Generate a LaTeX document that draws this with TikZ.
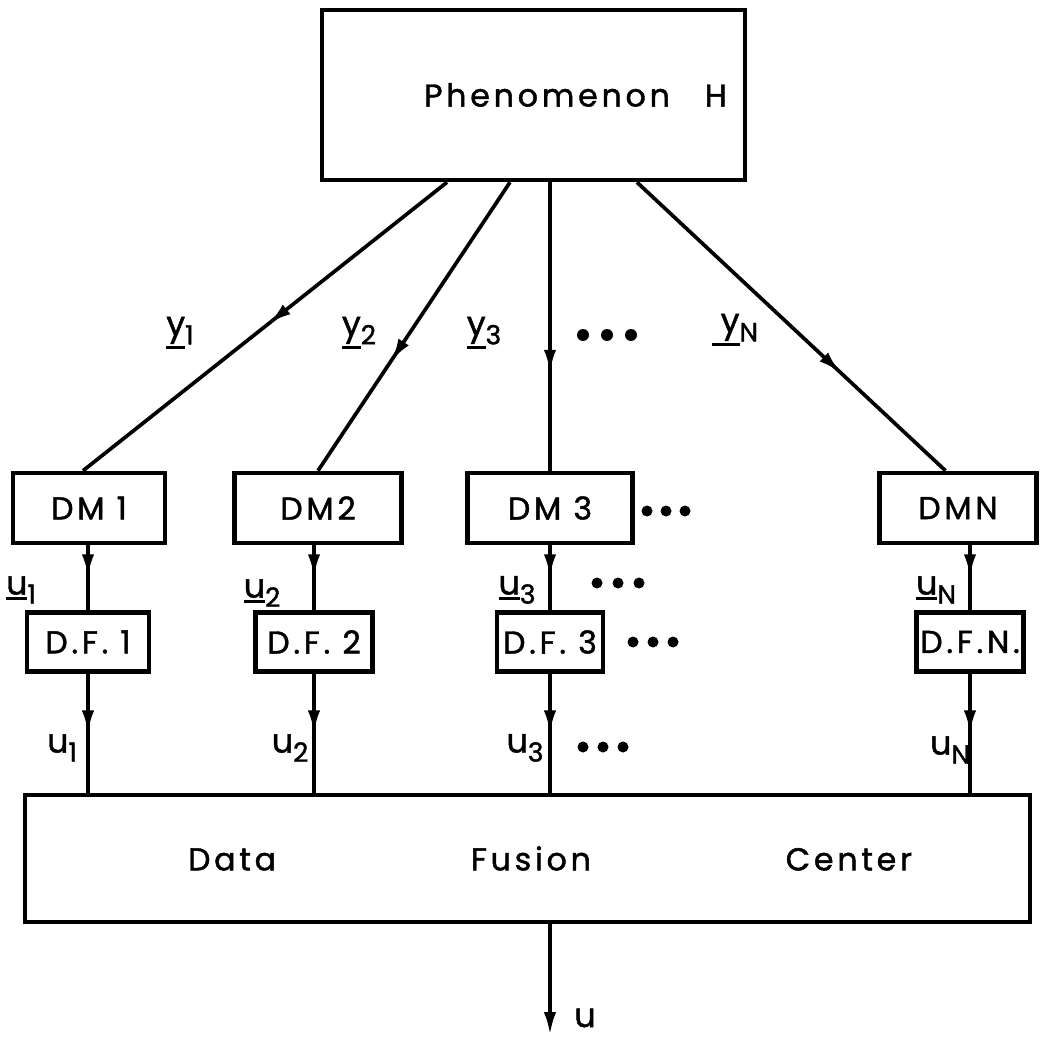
\documentclass[tikz,border=0pt]{standalone}
\usepackage{fontspec}
\setmainfont{Poppins}[LetterSpace=12, BoldFont=Poppins, BoldFeatures={FakeBold=1.4}]
\usetikzlibrary{arrows.meta,decorations.markings}
\newcommand{\lineunder}[1]{\vtop{\hbox{#1}\kern1.2pt\hrule height1.8pt}}
\newcommand{\idx}[1]{\raisebox{-0.5ex}{\fontsize{15}{17}\selectfont #1}}
\tikzset{
  blk/.style={draw, line width=2.6pt, inner sep=0pt, font=\fontsize{18}{21}\selectfont\bfseries},
  lbl/.style={inner sep=0pt, font=\fontsize{19}{22}\selectfont\bfseries},
  wire/.style={line width=2.1pt},
  midarr/.style={wire, postaction={decorate},
    decoration={markings, mark=at position #1 with {\arrow{Latex[length=13pt,width=7pt]}}}}
}
\begin{document}
\begin{tikzpicture}[x=0.02cm, y=-0.02cm]
\useasboundingbox (0,0) rectangle (1045,1037);
\node[blk, minimum width=8.46cm, minimum height=3.4cm] (ph) at (533.5,95) {\hspace*{1.68cm}Phenomenon\hspace{0.7cm}H};
\node[blk, minimum width=3.04cm, minimum height=1.4cm] (dm1) at (89,508) {DM 1};
\node[blk, minimum width=3.34cm, minimum height=1.4cm] (dm2) at (318,508) {DM2};
\node[blk, minimum width=3.3cm, minimum height=1.4cm] (dm3) at (550,508) {DM 3};
\node[blk, minimum width=3.14cm, minimum height=1.4cm] (dmN) at (958,508) {DMN};
\node[blk, minimum width=2.44cm, minimum height=1.18cm] (df1) at (88,642) {D.F. 1};
\node[blk, minimum width=2.34cm, minimum height=1.18cm] (df2) at (314,642) {D.F. 2};
\node[blk, minimum width=2.12cm, minimum height=1.18cm] (df3) at (550,642) {D.F. 3};
\node[blk, minimum width=2.14cm, minimum height=1.18cm] (dfN) at (970,642) {D.F.N.};
\node[blk, minimum width=20.1cm, minimum height=2.54cm] (dfc) at (527.5,858.5) {\hspace*{0.9cm}\makebox[14.48cm]{Data\hfill Fusion\hfill Center}};
\coordinate (out) at (550,1035);
\draw[midarr=0.49] ([xshift=-1.73cm]ph.south) -- ([xshift=-0.12cm]dm1.north);
\draw[midarr=0.62] ([xshift=-0.47cm]ph.south) -- (dm2.north);
\draw[midarr=0.66] (ph.south -| dm3.north) -- (dm3.north);
\draw[midarr=0.66] ([xshift=2.07cm]ph.south) -- ([xshift=-0.25cm]dmN.north);
\draw[midarr=0.49] (dm1.south -| df1.north) -- (df1.north);
\draw[midarr=0.49] (dm2.south -| df2.north) -- (df2.north);
\draw[midarr=0.49] (dm3.south) -- (df3.north);
\draw[midarr=0.49] (dmN.south -| dfN.north) -- (dfN.north);
\draw[midarr=0.5] (df1.south) -- (dfc.north -| df1.south);
\draw[midarr=0.5] (df2.south) -- (dfc.north -| df2.south);
\draw[midarr=0.5] (df3.south) -- (dfc.north -| df3.south);
\draw[midarr=0.5] (dfN.south) -- (dfc.north -| dfN.south);
\draw[wire, -{Latex[length=13pt,width=7pt]}] (dfc.south -| df3.south) -- (out);
\node[lbl] (y1) at (180,333) {\lineunder{y}\idx{1}};
\node[lbl] (y2) at (359,333) {\lineunder{y}\idx{2}};
\node[lbl] (y3) at (484,333) {\lineunder{y}\idx{3}};
\node[lbl] (yN) at (735,330) {\lineunder{\hspace*{5pt}y}\idx{N}};
\node[lbl] (su1) at (21,590) {\lineunder{u}\idx{1}};
\node[lbl] (su2) at (262,593) {\lineunder{u}\idx{2}};
\node[lbl] (su3) at (517,590) {\lineunder{u}\idx{3}};
\node[lbl] (suN) at (936,590) {\lineunder{u}\idx{N}};
\node[lbl] (u1) at (62,748) {u\idx{1}};
\node[lbl] (u2) at (290,748) {u\idx{2}};
\node[lbl] (u3) at (525,748) {u\idx{3}};
\node[lbl] (uN) at (950,750) {u\idx{N}};
\node[lbl] (u) at (585,1018) {u};
\foreach \x in {583,607,631} \fill (\x,335) circle[radius=0.12cm];
\foreach \x in {647,666,685} \fill (\x,511) circle[radius=0.11cm];
\foreach \x in {597,618,639} \fill (\x,583) circle[radius=0.11cm];
\foreach \x in {633,653,673} \fill (\x,642) circle[radius=0.11cm];
\foreach \x in {583,603,623} \fill (\x,747) circle[radius=0.11cm];
\end{tikzpicture}
\end{document}
